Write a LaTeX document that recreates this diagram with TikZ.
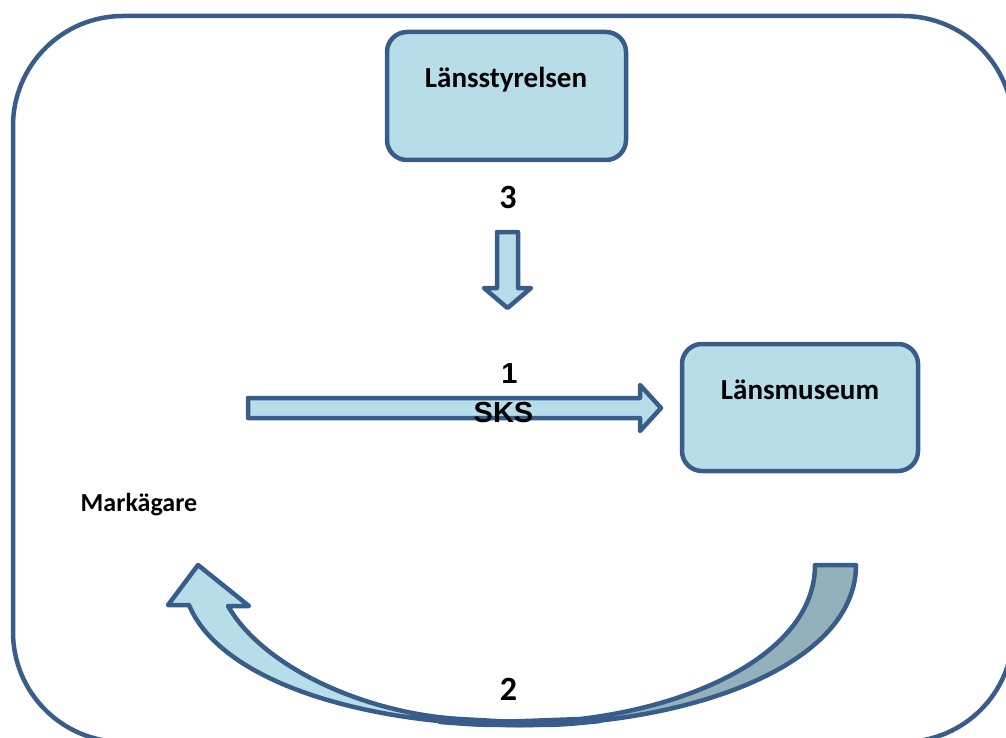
\documentclass[tikz,border=0pt]{standalone}
\usepackage{fontspec}
\setmainfont{Carlito}
\newfontfamily\arialfont{Liberation Sans}
\definecolor{edge}{HTML}{385D8A}
\definecolor{paleblue}{HTML}{B7DEE8}
\definecolor{greyblue}{HTML}{93B1BB}
\begin{document}
\begin{tikzpicture}[x=1pt,y=-1pt,line join=round,
  outline/.style={draw=edge,line width=4.5pt},
  orgbox/.style={outline,fill=paleblue,rounded corners=20pt,inner sep=0pt},
  blockarrow/.style={outline,fill=paleblue},
  boxlabel/.style={font=\fontsize{29}{34}\selectfont\bfseries,anchor=base,inner sep=0pt},
  smalllabel/.style={font=\fontsize{26}{31}\selectfont\bfseries,anchor=base,inner sep=0pt},
  steplabel/.style={font=\fontsize{34}{39}\selectfont\bfseries,anchor=base,inner sep=0pt},
  sanslabel/.style={font=\arialfont\fontsize{29}{34}\selectfont\bfseries,anchor=base,inner sep=0pt}]
\useasboundingbox (0,0) rectangle (1006,738);
\clip (0,0) rectangle (1006,738);

% outer frame
\draw[outline,rounded corners=110pt] (13,16) rectangle (1013,742);

% organisations
\node[orgbox,minimum width=239pt,minimum height=128pt] (lst) at (506.5,96) {};
\node[boxlabel] (lsttext) at (506,88) {Länsstyrelsen};
\node[orgbox,minimum width=236pt,minimum height=127pt] (lmu) at (800,407.5) {};
\node[boxlabel] (lmutext) at (800,399) {Länsmuseum};
\node[smalllabel] (owner) at (139,511) {Markägare};

% step 3: down arrow
\node[steplabel] (n3) at (508,208) {3};
\draw[blockarrow] (497,232) -- (518,232) -- (518,288) -- (531,288) -- (507.5,308)
  -- (484,288) -- (497,288) -- cycle;

% step 1: right arrow
\draw[blockarrow] (248,398) -- (640,398) -- (640,385) -- (661,408) -- (640,431)
  -- (640,418) -- (248,418) -- cycle;
\node[sanslabel] (n1) at (509.5,383) {1};
\node[sanslabel] (sks) at (503.5,422) {SKS};

% step 2: curved arrow, back face then front face
\draw[outline,fill=greyblue] (815,565) -- (856,565)
  .. controls (856,665) and (690,725) .. (520,725)
  .. controls (480,725) .. (440,722)
  .. controls (500,722) .. (580,719)
  .. controls (700,705) and (815,650) .. (815,565) -- cycle;
\draw[outline,fill=paleblue] (189,605) -- (168,605) -- (198,565) -- (249,606) -- (228,606)
  .. controls (265,670) and (370,714) .. (460,719)
  .. controls (530,723) .. (600,721)
  .. controls (560,725) .. (520,725)
  .. controls (360,725) and (220,680) .. (189,605) -- cycle;
\node[steplabel] (n2) at (508.5,700) {2};
\end{tikzpicture}
\end{document}
